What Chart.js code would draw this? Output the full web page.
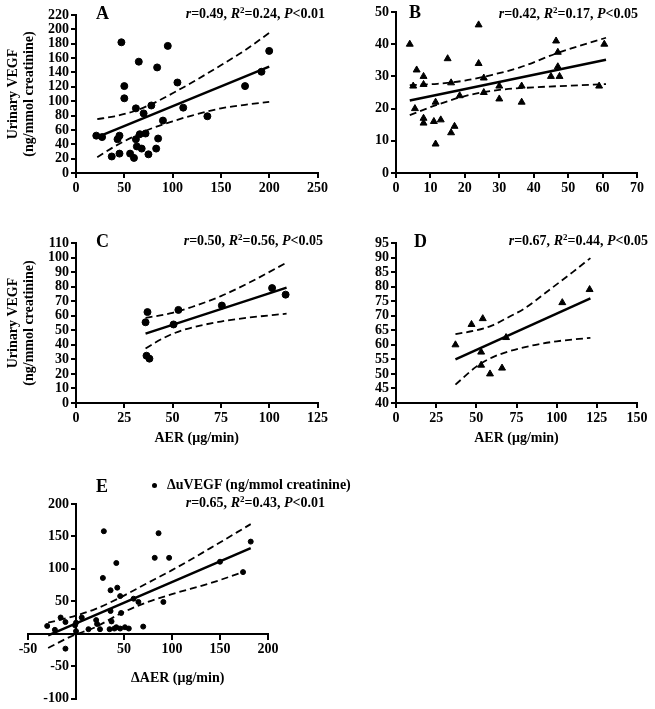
<!DOCTYPE html>
<html><head><meta charset="utf-8">
<script src="https://cdn.jsdelivr.net/npm/chart.js@4/dist/chart.umd.min.js"></script>
<style>
html,body{margin:0;padding:0;background:#fff;}
body{position:relative;width:655px;height:709px;overflow:hidden;font-family:"Liberation Serif",serif;color:#000;}
canvas{position:absolute;}
.t{position:absolute;white-space:nowrap;font-weight:bold;line-height:1;}
.lbl{font-size:18px;}
.st{font-size:14px;}
.st sup{font-size:9px;vertical-align:0;position:relative;top:-5px;}
.dot{position:absolute;width:5px;height:5px;border-radius:50%;background:#000;}
</style></head><body>
<canvas id="cA" width="330" height="200" style="left:0;top:0"></canvas>
<canvas id="cB" width="335" height="200" style="left:320px;top:0"></canvas>
<canvas id="cC" width="330" height="226" style="left:0;top:220px"></canvas>
<canvas id="cD" width="335" height="226" style="left:320px;top:220px"></canvas>
<canvas id="cE" width="330" height="249" style="left:0;top:460px"></canvas>

<div class="t lbl" style="left:96px;top:4px">A</div>
<div class="t lbl" style="left:409px;top:3px">B</div>
<div class="t lbl" style="left:96px;top:232px">C</div>
<div class="t lbl" style="left:414px;top:232px">D</div>
<div class="t lbl" style="left:96px;top:477px">E</div>

<div class="t st" style="right:330px;top:7px"><i>r</i>=0.49, <i>R</i><sup>2</sup>=0.24, <i>P</i>&lt;0.01</div>
<div class="t st" style="right:17px;top:7px"><i>r</i>=0.42, <i>R</i><sup>2</sup>=0.17, <i>P</i>&lt;0.05</div>
<div class="t st" style="right:332px;top:234px"><i>r</i>=0.50, <i>R</i><sup>2</sup>=0.56, <i>P</i>&lt;0.05</div>
<div class="t st" style="right:7px;top:234px"><i>r</i>=0.67, <i>R</i><sup>2</sup>=0.44, <i>P</i>&lt;0.05</div>
<div class="t st" style="right:330px;top:496px"><i>r</i>=0.65, <i>R</i><sup>2</sup>=0.43, <i>P</i>&lt;0.01</div>

<div class="dot" style="left:152px;top:483px"></div>
<div class="t st" style="left:167px;top:478px">ΔuVEGF (ng/mmol creatinine)</div>
<div class="t st" style="left:131px;top:671px">ΔAER (μg/min)</div>

<script>
// ---------- Panel A ----------
const aX = [21,27,43,45,47,50,50,37,45,56,60,62,62,63,65,66,68,70,72,75,78,83,84,85,90,95,105,111,136,175,192,200];
const aY = [52,50,47,52,182,121,104,23,27,27,21,90,47,37,155,54,34,83,55,26,94,34,147,48,73,177,126,91,79,121,141,170];
const aFitX = [22,200];
const aFitY = [50,148];
const aUpX = [22,40,60,80,100,120,150,175,200];
const aUpY = [75,79,86,97,111,126,150,171,195];
const aLoX = [22,40,60,80,100,120,150,175,200];
const aLoY = [22,37,51,63,72,80,90,95,99];

// ---------- Panel B ----------
const bX = [4,5,6,5.5,8,8,8,8,11,11.5,11.5,13,15,16,16,17,18.5,24,24,25.5,25.5,30,30,36.5,36.5,45,46.5,47,47,47.5,59,60.5];
const bY = [40,27,32,20,30,27.5,17,15.5,16,22,9,16.5,35.5,28,12.5,14.5,24,46,34,29.5,25,27,23,27,22,30,41,37.5,33,30,27,40];
const bFitX = [4,61];
const bFitY = [22.5,35.2];
const bUpX = [4,12,20,28,36,47,61];
const bUpY = [27.3,27.7,28.7,30.5,32.8,37.3,42];
const bLoX = [4,12,20,30,40,50,61];
const bLoY = [18,21.2,23.9,25.8,26.6,27.1,27.6];

// ---------- Panel C ----------
const cX = [36,37,36.5,38,50.5,53,75.5,101.5,108.5];
const cY = [55.5,62.5,32.5,30.5,54,64,67,79,74.5];
const cFitX = [36,109];
const cFitY = [47.7,79.3];
const cUpX = [36,50,60,75,90,109];
const cUpY = [58.5,62,66,73.5,83,96.5];
const cLoX = [36,45,55,75,90,109];
const cLoY = [37.5,44.5,50,56,58.8,61.4];

// ---------- Panel D ----------
const dX = [37,47,54,53,53,58.5,68.5,66,103.5,120.5];
const dY = [60,67,69,57.5,53,50,62.5,52,74.5,79];
const dFitX = [37,121];
const dFitY = [55,76];
const dUpX = [37,50,60,70,80,95,110,121];
const dUpY = [63.7,65,66.7,69.5,72.5,78.7,85,89.8];
const dLoX = [37,50,60,70,85,100,121];
const dLoY = [46.3,52.5,55.7,57.7,59.8,61.2,62.4];

// ---------- Panel E ----------
const eX = [-30,-22,-16,-11,-11,0,-1,0,6,13,21,22,25,35,37,36,40,42,46,51,55,70,47,46,60,65,91,28,29,36,42,43,82,86,97,150,174,182];
const eY = [12,6,25,18,-23,17,13,4,25,7,21,15,7,7,19,35,8,10,8,10,8,11,32,58,54,49,49,86,158,67,109,71,117,155,117,111,95,142];
const eFitX = [-29,182];
const eFitY = [-2.6,132];
const eUpX = [-29,0,20,45,73,100,140,182];
const eUpY = [17,28,38,55,77,98,132,169];
const eLoX = [-29,-5,20,45,73,100,140,176];
const eLoY = [-22,-4,10,30,48,61,78,96];

const FONT_FAMILY = '"Liberation Serif", serif';
const TICK_FONT = {family: FONT_FAMILY, size: 14, weight: 'bold'};
const TITLE_FONT = {family: FONT_FAMILY, size: 14, weight: 'bold', lineHeight: 1.15};

function pts(xs, ys) { return xs.map((x, i) => ({x: x, y: ys[i]})); }
function scatterDs(xs, ys, style, r) {
  return {data: pts(xs, ys), pointStyle: style, pointRadius: r, pointHoverRadius: r,
    backgroundColor: '#000', borderColor: '#000', borderWidth: 1, showLine: false};
}
function lineDs(xs, ys, dash, w) {
  return {data: pts(xs, ys), showLine: true, pointRadius: 0, pointHoverRadius: 0,
    borderColor: '#000', backgroundColor: '#000', borderWidth: w, borderDash: dash,
    tension: 0.4, cubicInterpolationMode: 'monotone', fill: false};
}
function scaleCfg(min, max, step, fit, title, extra) {
  return Object.assign({
    type: 'linear', min: min, max: max,
    ticks: {stepSize: step, color: '#000', font: TICK_FONT, padding: 2, autoSkip: false, maxRotation: 0, minRotation: 0},
    grid: {display: true, drawOnChartArea: false, drawTicks: true, tickLength: 5, color: '#000', lineWidth: 2},
    border: {display: true, color: '#000', width: 2},
    title: title || {display: false},
    afterFit: fit
  }, extra || {});
}
const yTitle = {display: true, text: ['Urinary VEGF', '(ng/mmol creatinine)'], color: '#000', font: TITLE_FONT, padding: {top: 5, bottom: 0}};
const xTitle = {display: true, text: 'AER (μg/min)', color: '#000', font: TITLE_FONT, padding: {top: 0, bottom: 0}};

function make(id, datasets, padding, xs, ys) {
  return new Chart(document.getElementById(id), {
    type: 'scatter',
    data: {datasets: datasets},
    options: {
      responsive: false, animation: false, devicePixelRatio: 1,
      layout: {padding: padding},
      plugins: {legend: {display: false}, tooltip: {enabled: false}},
      scales: {x: xs, y: ys}
    }
  });
}
const W = v => s => { s.width = v; };
const H = v => s => { s.height = v; };

make('cA', [
  scatterDs(aX, aY, 'circle', 3.5),
  lineDs(aFitX, aFitY, [], 2.5),
  lineDs(aUpX, aUpY, [7, 4], 1.8),
  lineDs(aLoX, aLoY, [7, 4], 1.8)
], {left: 0, top: 15, right: 11, bottom: 0},
  scaleCfg(0, 250, 50, H(27)), scaleCfg(0, 220, 20, W(76), yTitle));

make('cB', [
  scatterDs(bX, bY, 'triangle', 4),
  lineDs(bFitX, bFitY, [], 2.5),
  lineDs(bUpX, bUpY, [7, 4], 1.8),
  lineDs(bLoX, bLoY, [7, 4], 1.8)
], {left: 0, top: 12, right: 18, bottom: 0},
  scaleCfg(0, 70, 10, H(27)), scaleCfg(0, 50, 10, W(76)));

make('cC', [
  scatterDs(cX, cY, 'circle', 3.5),
  lineDs(cFitX, cFitY, [], 2.5),
  lineDs(cUpX, cUpY, [7, 4], 1.8),
  lineDs(cLoX, cLoY, [7, 4], 1.8)
], {left: 0, top: 23, right: 12, bottom: 0},
  scaleCfg(0, 125, 25, H(43), xTitle), scaleCfg(0, 110, 10, W(76), yTitle));

make('cD', [
  scatterDs(dX, dY, 'triangle', 4),
  lineDs(dFitX, dFitY, [], 2.5),
  lineDs(dUpX, dUpY, [7, 4], 1.8),
  lineDs(dLoX, dLoY, [7, 4], 1.8)
], {left: 0, top: 23, right: 18, bottom: 0},
  scaleCfg(0, 150, 25, H(43), xTitle), scaleCfg(40, 95, 5, W(76)));

// E: axes cross at zero; zero labels hidden; y labels spaced off the axis
const ex = scaleCfg(-50, 200, 50, H(0), null, {position: {y: 0}});
ex.ticks.callback = v => (v === 0 ? '' : String(v));
const ey = scaleCfg(-100, 200, 50, W(0), null, {position: {x: 0}});
ey.grid.tickLength = 4;
ey.ticks.callback = v => (v === 0 ? '' : String(v) + '\u2002');
make('cE', [
  scatterDs(eX, eY, 'circle', 2.5),
  lineDs(eFitX, eFitY, [], 2.5),
  lineDs(eUpX, eUpY, [7, 4], 1.8),
  lineDs(eLoX, eLoY, [7, 4], 1.8)
], {left: 28, top: 44, right: 62, bottom: 9}, ex, ey);
</script>
</body></html>
